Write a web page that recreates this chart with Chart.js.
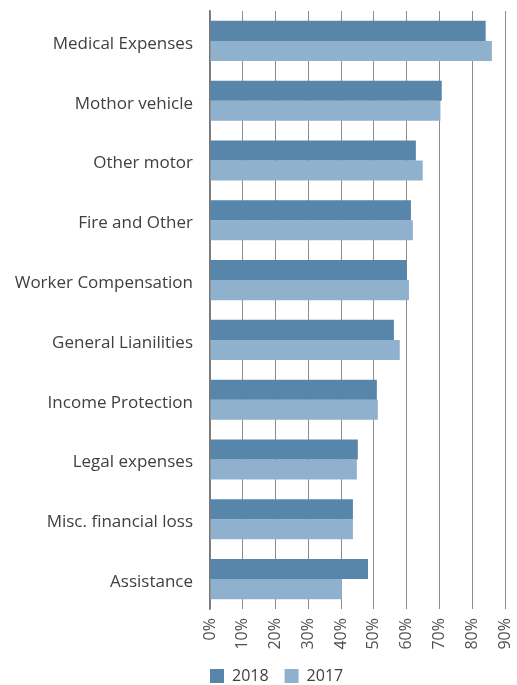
<!DOCTYPE html>
<html>
<head>
<meta charset="utf-8">
<script src="https://cdn.jsdelivr.net/npm/chart.js@4/dist/chart.umd.min.js"></script>
<style>
html,body{margin:0;padding:0;background:#fff;}
#wrap{width:517px;height:685px;position:relative;}
</style>
</head>
<body>
<div id="wrap"><canvas id="c" width="517" height="685"></canvas></div>
<script>
const categories = ["Medical Expenses","Mothor vehicle","Other motor","Fire and Other","Worker Compensation","General Lianilities","Income Protection","Legal expenses","Misc. financial loss","Assistance"];
const values2018 = [84.1, 70.7, 62.8, 61.3, 60.1, 56.1, 50.9, 45.1, 43.6, 48.2];
const values2017 = [86.0, 70.3, 64.9, 61.9, 60.7, 57.9, 51.2, 44.8, 43.6, 40.2];
const seriesNames = ["2018", "2017"];
const xTicks = [0, 10, 20, 30, 40, 50, 60, 70, 80, 90];

const legendPlacer = {
  id: 'legendPlacer',
  afterLayout(chart) {
    const lg = chart.legend;
    const h = lg.bottom - lg.top;
    lg.left = 194; lg.right = 517;
    lg.top = 652; lg.bottom = 652 + h;
    chart.scales.x.bottom = 662;
  }
};

new Chart(document.getElementById('c'), {
  type: 'bar',
  data: {
    labels: categories,
    datasets: [
      {label: seriesNames[0], data: values2018, backgroundColor: '#5885aa', categoryPercentage: 0.67, barPercentage: 1.0},
      {label: seriesNames[1], data: values2017, backgroundColor: '#90b1cd', categoryPercentage: 0.67, barPercentage: 1.0}
    ]
  },
  options: {
    indexAxis: 'y',
    responsive: false,
    animation: false,
    layout: {padding: {top: 11, right: 12, left: 0, bottom: 0}},
    plugins: {
      tooltip: {enabled: false},
      legend: {
        position: 'bottom',
        align: 'start',
        labels: {
          boxWidth: 14, boxHeight: 14, padding: 16,
          color: '#404040',
          font: {family: 'Open Sans', size: 16}
        }
      }
    },
    scales: {
      x: {
        min: 0, max: 90,
        afterBuildTicks(s) { s.ticks = xTicks.map(v => ({value: v})); },
        afterFit(s) { s.height = 34; s.paddingLeft = 0; s.paddingRight = 0; },
        ticks: {
          callback: v => v + '%',
          minRotation: 90, maxRotation: 90,
          padding: 9,
          color: '#505050',
          font: {family: 'Open Sans', size: 16}
        },
        grid: {color: '#8c8c8c', lineWidth: 1, drawTicks: false},
        border: {display: false}
      },
      y: {
        afterFit(s) { s.width = 210; s.paddingTop = 0; s.paddingBottom = 0; },
        ticks: {
          padding: 17,
          labelOffset: 3,
          color: '#404040',
          font: {family: 'Open Sans', size: 17}
        },
        grid: {display: false, drawTicks: false},
        border: {display: true, color: '#777', width: 1.5}
      }
    }
  },
  plugins: [legendPlacer]
});
</script>
</body>
</html>
